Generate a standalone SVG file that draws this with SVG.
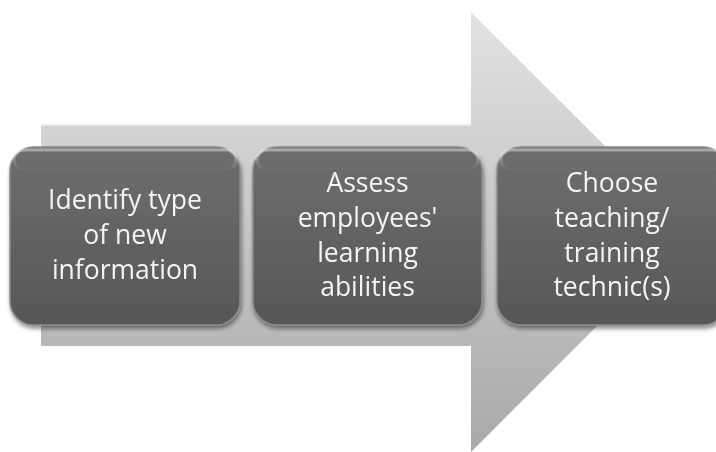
<svg xmlns="http://www.w3.org/2000/svg" width="716" height="452" viewBox="0 0 716 452">
<defs>
<linearGradient id="arrowGrad" x1="0" y1="0" x2="0" y2="1">
<stop offset="0" stop-color="#e2e2e2"/>
<stop offset="0.5" stop-color="#c6c6c6"/>
<stop offset="1" stop-color="#a9a9a9"/>
</linearGradient>
<linearGradient id="boxGrad" x1="0" y1="0" x2="0" y2="1">
<stop offset="0" stop-color="#6e6e6e"/>
<stop offset="1" stop-color="#575757"/>
</linearGradient>
<linearGradient id="hiGrad" x1="0" y1="0" x2="0" y2="1">
<stop offset="0" stop-color="#ffffff" stop-opacity="0.4"/>
<stop offset="1" stop-color="#ffffff" stop-opacity="0"/>
</linearGradient>
<filter id="shadow" x="-10%" y="-10%" width="120%" height="125%">
<feGaussianBlur in="SourceAlpha" stdDeviation="2"/>
<feOffset dx="1" dy="3" result="b"/>
<feComponentTransfer><feFuncA type="linear" slope="0.45"/></feComponentTransfer>
<feMerge><feMergeNode/><feMergeNode in="SourceGraphic"/></feMerge>
</filter>
</defs>
<style>
.box{fill:url(#boxGrad);stroke:#8a8a8a;stroke-width:1.5}
.hi{fill:none;stroke:url(#hiGrad);stroke-width:3}
.lbl{font-family:"Open Sans","Liberation Sans",sans-serif;font-size:26.5px;fill:#f4f4f4;text-anchor:middle}
</style>
<g id="arrow">
<path d="M41,124 L471,124 L471,12 L691,232 L471,452 L471,346 L41,346 Z" fill="url(#arrowGrad)"/>
<path d="M41,124.5 L471,124.5" stroke="#f4f4f4" stroke-width="2" fill="none"/>
</g>
<g id="node1" filter="url(#shadow)">
<rect class="box" x="10" y="147" width="230" height="178" rx="24"/>
<rect class="hi" x="14" y="150" width="222" height="20" rx="10"/>
<text class="lbl"><tspan x="125" y="209">Identify type</tspan><tspan x="125" y="244">of new</tspan><tspan x="125" y="279">information</tspan></text>
</g>
<g id="node2" filter="url(#shadow)">
<rect class="box" x="253" y="147" width="229" height="178" rx="24"/>
<rect class="hi" x="257" y="150" width="221" height="20" rx="10"/>
<text class="lbl"><tspan x="367.5" y="192">Assess</tspan><tspan x="367.5" y="227">employees'</tspan><tspan x="367.5" y="262">learning</tspan><tspan x="367.5" y="296">abilities</tspan></text>
</g>
<g id="node3" filter="url(#shadow)">
<rect class="box" x="497" y="147" width="230" height="178" rx="24"/>
<rect class="hi" x="501" y="150" width="222" height="20" rx="10"/>
<text class="lbl"><tspan x="612" y="192">Choose</tspan><tspan x="612" y="227">teaching/</tspan><tspan x="612" y="262">training</tspan><tspan x="612" y="296">technic(s)</tspan></text>
</g>
<g id="connectors"/>
</svg>
